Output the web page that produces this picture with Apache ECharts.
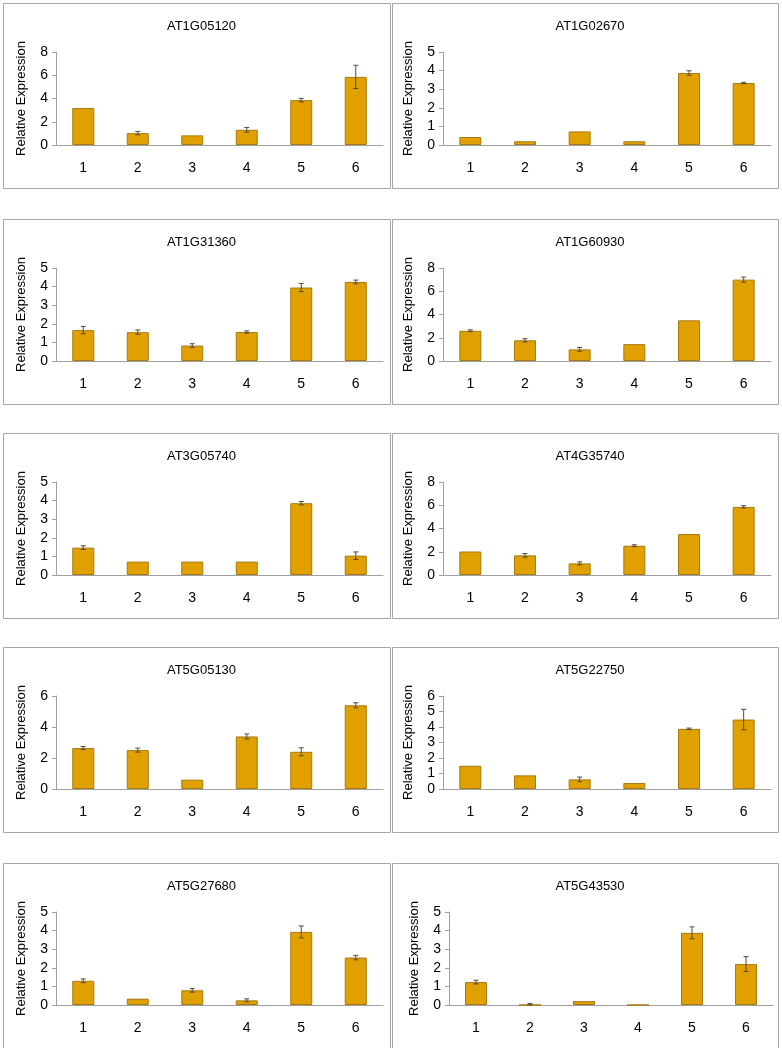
<!DOCTYPE html>
<html>
<head>
<meta charset="utf-8">
<script src="https://cdn.jsdelivr.net/npm/echarts@6/dist/echarts.min.js"></script>
<style>
html,body{margin:0;padding:0;background:#fff;}
#chart{width:782px;height:1048px;}
</style>
</head>
<body>
<div id="chart"></div>
<script>
// ---- data ----
const categories = ['1', '2', '3', '4', '5', '6'];
const genes = ['AT1G05120', 'AT1G02670', 'AT1G31360', 'AT1G60930', 'AT3G05740',
               'AT4G35740', 'AT5G05130', 'AT5G22750', 'AT5G27680', 'AT5G43530'];
const yMax  = [8, 5, 5, 8, 5, 8, 6, 6, 5, 5];
const yStep = [2, 1, 1, 2, 1, 2, 2, 1, 1, 1];

const AT1G05120 = [3.18, 1.02, 0.83, 1.31, 3.86, 5.86];
const AT1G05120_err = [0, 0.15, 0, 0.2, 0.15, 1.0];
const AT1G02670 = [0.43, 0.2, 0.73, 0.2, 3.87, 3.33];
const AT1G02670_err = [0, 0, 0, 0, 0.12, 0.04];
const AT1G31360 = [1.66, 1.55, 0.83, 1.56, 3.95, 4.25];
const AT1G31360_err = [0.2, 0.12, 0.1, 0.06, 0.22, 0.1];
const AT1G60930 = [2.6, 1.78, 1.0, 1.45, 3.5, 7.0];
const AT1G60930_err = [0.08, 0.14, 0.16, 0, 0, 0.22];
const AT3G05740 = [1.47, 0.72, 0.72, 0.72, 3.86, 1.04];
const AT3G05740_err = [0.1, 0, 0, 0, 0.09, 0.2];
const AT4G35740 = [2.02, 1.69, 1.0, 2.52, 3.52, 5.86];
const AT4G35740_err = [0, 0.16, 0.13, 0.08, 0, 0.1];
const AT5G05130 = [2.64, 2.51, 0.6, 3.39, 2.4, 5.4];
const AT5G05130_err = [0.1, 0.13, 0, 0.16, 0.26, 0.16];
const AT5G22750 = [1.5, 0.88, 0.62, 0.39, 3.88, 4.48];
const AT5G22750_err = [0, 0, 0.15, 0, 0.05, 0.66];
const AT5G27680 = [1.3, 0.34, 0.79, 0.25, 3.93, 2.55];
const AT5G27680_err = [0.1, 0, 0.1, 0.08, 0.32, 0.12];
const AT5G43530 = [1.23, 0.0, 0.21, 0.0, 3.88, 2.2];
const AT5G43530_err = [0.1, 0.08, 0, 0, 0.32, 0.4];

const valueSets = [AT1G05120, AT1G02670, AT1G31360, AT1G60930, AT3G05740,
                   AT4G35740, AT5G05130, AT5G22750, AT5G27680, AT5G43530];
const errorSets = [AT1G05120_err, AT1G02670_err, AT1G31360_err, AT1G60930_err, AT3G05740_err,
                   AT4G35740_err, AT5G05130_err, AT5G22750_err, AT5G27680_err, AT5G43530_err];

// ---- layout ----
const FONT = '"Liberation Sans", Arial, sans-serif';
const rowTops = [3, 219, 433, 647, 863];
const panelH = 185;
const colX = [3, 392];
const colW = [387, 386];
const gridLeft = [56, 443];
const gridWidth = [327, 328];

const grids = [], xAxes = [], yAxes = [], series = [], titles = [], graphics = [];

genes.forEach((g, i) => {
  const row = Math.floor(i / 2), col = i % 2;
  const top = rowTops[row];
  let gl = gridLeft[col], gw = gridWidth[col];
  if (i === 9) { gl = 449; gw = 324; }
  graphics.push({
    type: 'rect', silent: true, z: 0,
    shape: { x: colX[col] + 0.5, y: top + 0.5, width: colW[col], height: panelH },
    style: { fill: 'none', stroke: '#a6a6a6', lineWidth: 1 }
  });
  titles.push({
    text: g, left: colX[col] + colW[col] / 2, top: top + 12, textAlign: 'center',
    textStyle: { fontFamily: FONT, fontSize: 13, fontWeight: 'normal', color: '#000' }
  });
  grids.push({ left: gl, width: gw, top: top + 49, height: 93, containLabel: false });
  xAxes.push({
    type: 'category', gridIndex: i, data: categories,
    axisLine: { show: true, lineStyle: { color: '#a0a0a0', width: 1 } },
    axisTick: { show: false },
    axisLabel: { fontFamily: FONT, fontSize: 14, color: '#000', margin: 16 },
    splitLine: { show: false }
  });
  yAxes.push({
    type: 'value', gridIndex: i, min: 0, max: yMax[i], interval: yStep[i],
    name: 'Relative Expression', nameLocation: 'middle', nameRotate: 90, nameGap: 28,
    nameTextStyle: { fontFamily: FONT, fontSize: 13, color: '#000' },
    axisLine: { show: true, lineStyle: { color: '#a0a0a0', width: 1 } },
    axisTick: { show: true, length: 4, lineStyle: { color: '#a0a0a0' } },
    axisLabel: { fontFamily: FONT, fontSize: 14, color: '#000', margin: 8 },
    splitLine: { show: false }
  });
  series.push({
    type: 'bar', xAxisIndex: i, yAxisIndex: i, data: valueSets[i], barWidth: 22,
    itemStyle: { color: '#e0a000', borderColor: '#a57a12', borderWidth: 1 },
    silent: true, animation: false, z: 2
  });
  const errData = valueSets[i].map((v, k) => [k, v - errorSets[i][k], v + errorSets[i][k], errorSets[i][k]]);
  series.push({
    type: 'custom', xAxisIndex: i, yAxisIndex: i, data: errData, z: 3, silent: true, animation: false,
    renderItem: function (params, api) {
      if (!(api.value(3) > 0)) return null;
      const x = api.value(0);
      const lo = api.coord([x, Math.max(0, api.value(1))]);
      const hi = api.coord([x, api.value(2)]);
      const cap = 2.5;
      const st = { stroke: '#5a4a30', lineWidth: 1, fill: 'none' };
      return {
        type: 'group', children: [
          { type: 'line', shape: { x1: lo[0], y1: lo[1], x2: hi[0], y2: hi[1] }, style: st },
          { type: 'line', shape: { x1: hi[0] - cap, y1: hi[1], x2: hi[0] + cap, y2: hi[1] }, style: st },
          { type: 'line', shape: { x1: lo[0] - cap, y1: lo[1], x2: lo[0] + cap, y2: lo[1] }, style: st }
        ]
      };
    },
    encode: { x: 0, y: [1, 2] }
  });
});

const chart = echarts.init(document.getElementById('chart'), null, { renderer: 'canvas' });
chart.setOption({
  animation: false,
  backgroundColor: '#fff',
  title: titles,
  grid: grids,
  xAxis: xAxes,
  yAxis: yAxes,
  series: series,
  graphic: graphics
});
</script>
</body>
</html>
